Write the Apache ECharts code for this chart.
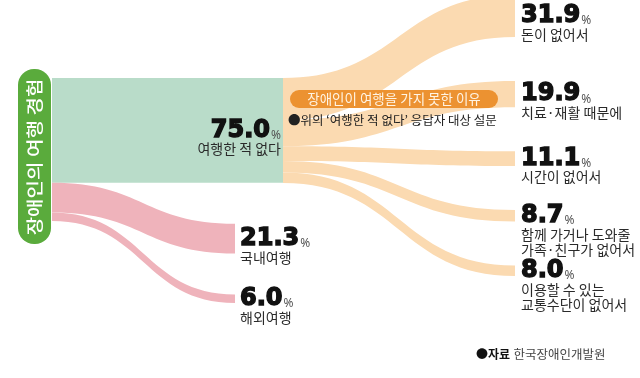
<!DOCTYPE html>
<html>
<head>
<meta charset="utf-8">
<script src="https://cdn.jsdelivr.net/npm/echarts@6/dist/echarts.min.js"></script>
<style>
  html, body { margin: 0; padding: 0; background: #fff; }
  #chart { width: 640px; height: 378px; }
</style>
</head>
<body>
<div id="chart"></div>
<script>
// 장애인의 여행 경험 (%)
const sourceName = '장애인의 여행 경험';
const experienceNames = ['여행한 적 없다', '국내여행', '해외여행'];
const experienceValues = [75.0, 21.3, 6.0];
// 장애인이 여행을 가지 못한 이유 (%, '여행한 적 없다' 응답자 대상)
const reasonNames = [
  '돈이 없어서',
  '치료·재활 때문에',
  '시간이 없어서',
  '함께 가거나 도와줄\n가족·친구가 없어서',
  '이용할 수 있는\n교통수단이 없어서'
];
const reasonValues = [31.9, 19.9, 11.1, 8.7, 8.0];

const GREEN = '#b9dcc9', PINK = '#efb3bb', PEACH = '#fbdab1';
const NONE = 'rgba(0,0,0,0)';
// left part sits under the title pill, right part fans out over the whole height
const L_TOP = 78, L_HEIGHT = 225;
const R_TOP = -5, R_HEIGHT = 281;

const numFont = '"DejaVu Sans", sans-serif';
const krFont = '"Noto Sans CJK KR", sans-serif';

const valueOf = {};
experienceNames.forEach((n, i) => { valueOf[n] = experienceValues[i]; });
reasonNames.forEach((n, i) => { valueOf[n] = reasonValues[i]; });

const rich = {
  num: {
    fontFamily: numFont, fontWeight: 'bold', fontSize: 24, color: '#111', lineHeight: 22,
    textBorderColor: '#111', textBorderWidth: 1.4
  },
  pct: {
    fontFamily: 'Noto Sans', fontSize: 12, color: '#555', lineHeight: 15,
    verticalAlign: 'bottom', padding: [0, 0, 0, 1]
  },
  txt: { fontFamily: krFont, fontSize: 14, color: '#2a2a2a', lineHeight: 15 }
};

const labelText = (p) => {
  const lines = p.name.split('\n').map((s) => '{txt|' + s + '}').join('\n');
  return '{num|' + valueOf[p.name].toFixed(1) + '}{pct|%}\n' + lines;
};

const baseLabel = {
  show: true,
  position: 'right',
  distance: 5,
  verticalAlign: 'top',
  offset: [0, -11],
  formatter: labelText,
  rich: rich
};

let chartDom = document.getElementById('chart');
let myChart = echarts.init(chartDom);

let option = {
  animation: false,
  graphic: [
    {
      type: 'rect', z: 100,
      shape: { x: 18, y: 69, width: 33, height: 175, r: 16 },
      style: { fill: '#5aab3c' }
    },
    {
      type: 'text', z: 101, x: 35, y: 157, rotation: Math.PI / 2, scaleX: 1.18,
      style: {
        text: sourceName, fill: '#fff', align: 'center', verticalAlign: 'middle',
        fontFamily: krFont, fontSize: 17, fontWeight: 500
      }
    },
    {
      type: 'rect', z: 100,
      shape: { x: 290, y: 90, width: 208, height: 18, r: 9 },
      style: { fill: '#ec9231' }
    },
    {
      type: 'text', z: 101, x: 394, y: 99,
      style: {
        text: '장애인이 여행을 가지 못한 이유', fill: '#fff4e4', align: 'center', verticalAlign: 'middle',
        fontFamily: krFont, fontSize: 13.5
      }
    },
    {
      type: 'text', z: 101, x: 288, y: 120,
      style: {
        text: '●위의 ‘여행한 적 없다’ 응답자 대상 설문', fill: '#222', verticalAlign: 'middle',
        fontFamily: krFont, fontSize: 12.5
      }
    },
    {
      type: 'text', z: 101, x: 476, y: 354,
      style: {
        text: '{b|●자료} {n|한국장애인개발원}', verticalAlign: 'middle',
        rich: {
          b: { fontFamily: krFont, fontSize: 12, fontWeight: 'bold', fill: '#111' },
          n: { fontFamily: krFont, fontSize: 12.5, fill: '#444' }
        }
      }
    }
  ],
  series: [
    {
      type: 'sankey',
      left: 4, top: L_TOP, width: 279, height: L_HEIGHT,
      nodeWidth: 48, nodeGap: 41,
      layoutIterations: 0,
      draggable: false,
      emphasis: { disabled: true },
      itemStyle: { borderWidth: 0 },
      lineStyle: { opacity: 1, curveness: 0.5 },
      label: baseLabel,
      data: [{ name: sourceName, itemStyle: { color: NONE }, label: { show: false } }].concat(
        experienceNames.map((n, i) => ({
          name: n,
          itemStyle: { color: i === 0 ? GREEN : NONE },
          label: i === 0
            ? { position: 'insideRight', distance: 2, align: 'right' }
            : { position: 'insideLeft', distance: 5 }
        }))
      ),
      links: experienceNames.map((n, i) => ({
        source: sourceName, target: n, value: experienceValues[i],
        lineStyle: { color: i === 0 ? GREEN : PINK }
      }))
    },
    {
      type: 'sankey',
      left: 282, top: R_TOP, width: 234, height: R_HEIGHT,
      nodeWidth: 1, nodeGap: 44,
      layoutIterations: 0,
      draggable: false,
      emphasis: { disabled: true },
      itemStyle: { borderWidth: 0, color: NONE },
      lineStyle: { opacity: 1, curveness: 0.5, color: PEACH },
      label: baseLabel,
      data: [{
        name: experienceNames[0],
        localY: (L_TOP - R_TOP) / R_HEIGHT,
        label: { show: false }
      }].concat(reasonNames.map((n) => ({ name: n }))),
      links: reasonNames.map((n, i) => ({
        source: experienceNames[0], target: n, value: reasonValues[i]
      }))
    }
  ]
};

option && myChart.setOption(option);
</script>
</body>
</html>
